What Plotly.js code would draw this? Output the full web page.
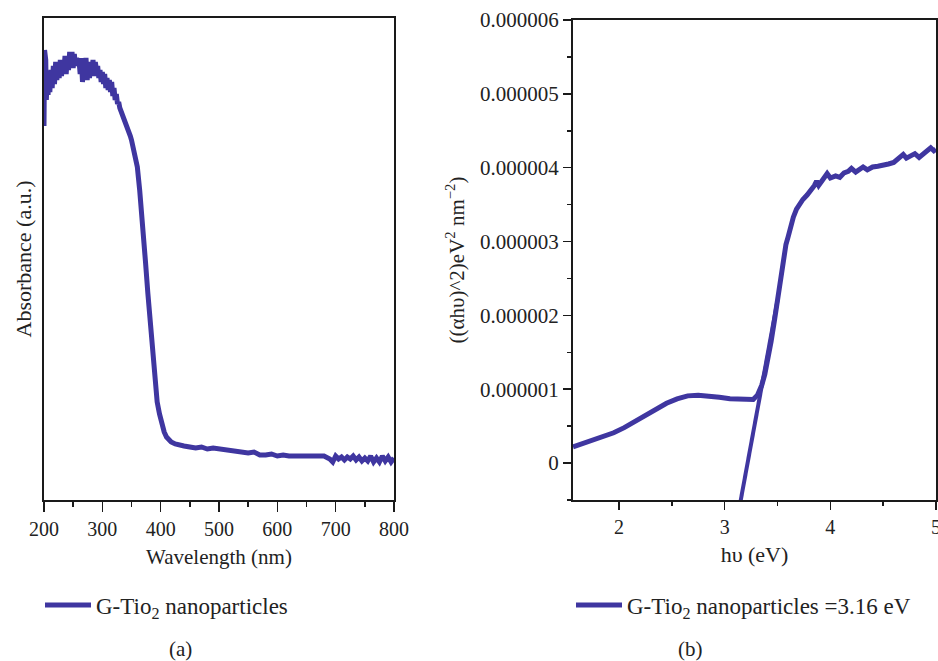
<!DOCTYPE html>
<html>
<head>
<meta charset="utf-8">
<script src="https://cdn.plot.ly/plotly-3.0.1.min.js"></script>
<style>html,body{margin:0;padding:0;background:#fff;}#chart{width:938px;height:661px;}</style>
</head>
<body>
<div id="chart"></div>
<script>
// ---- Panel (a): UV-Vis absorbance ----
const wavelength = [200,201,202,203,204,206,207,208,210,212,214,216,218,220,222,224,226,228,230,232,234,236,238,240,242,244,246,248,250,252,254,256,258,260,262,264,266,268,270,272,274,276,278,280,282,284,286,288,290,292,294,296,298,300,302,304,306,308,310,312,314,316,318,320,322,324,326,328,330,334,338,340,344,348,350,354,358,360,364,368,370,374,378,382,386,390,394,398,402,406,410,414,418,425,430,440,450,460,470,480,490,500,510,520,530,540,550,560,570,580,590,600,610,620,630,640,650,660,670,680,690,695,700,705,710,715,720,725,730,735,740,745,750,755,760,765,770,775,780,785,790,795,800];
const absorbance = [3.74,4.50,3.90,4.40,4.00,4.28,4.05,4.25,4.08,4.30,4.12,4.34,4.16,4.38,4.20,4.36,4.22,4.40,4.24,4.38,4.28,4.44,4.26,4.42,4.30,4.48,4.34,4.48,4.32,4.46,4.34,4.42,4.36,4.40,4.26,4.42,4.18,4.38,4.24,4.42,4.20,4.38,4.22,4.36,4.28,4.40,4.24,4.38,4.30,4.34,4.22,4.30,4.18,4.28,4.16,4.26,4.12,4.22,4.10,4.20,4.08,4.18,4.04,4.12,4.00,4.06,3.96,3.98,3.92,3.86,3.82,3.78,3.70,3.64,3.60,3.50,3.40,3.33,3.10,2.85,2.67,2.38,2.07,1.78,1.50,1.20,0.98,0.86,0.75,0.68,0.63,0.60,0.58,0.56,0.55,0.54,0.53,0.52,0.53,0.51,0.52,0.51,0.50,0.50,0.49,0.47,0.47,0.48,0.45,0.45,0.46,0.44,0.45,0.44,0.44,0.43,0.44,0.43,0.43,0.44,0.41,0.38,0.44,0.41,0.43,0.40,0.43,0.41,0.44,0.40,0.43,0.39,0.42,0.39,0.44,0.38,0.42,0.38,0.44,0.39,0.43,0.38,0.42];
const wlTicks = [200,300,400,500,600,700,800];

// ---- Panel (b): Tauc plot ----
const photonEnergy = [1.565,1.65,1.75,1.85,1.95,2.05,2.15,2.25,2.35,2.45,2.55,2.65,2.75,2.85,2.95,3.05,3.15,3.22,3.27,3.31,3.35,3.38,3.41,3.44,3.47,3.50,3.52,3.54,3.56,3.58,3.60,3.62,3.65,3.68,3.71,3.74,3.78,3.82,3.85,3.87,3.89,3.93,3.97,4.00,4.05,4.09,4.13,4.17,4.20,4.24,4.28,4.31,4.35,4.40,4.45,4.50,4.55,4.60,4.65,4.69,4.72,4.76,4.80,4.84,4.88,4.92,4.95,4.98,5.00];
const taucValue = [0.22e-6,0.26e-6,0.30e-6,0.35e-6,0.41e-6,0.48e-6,0.56e-6,0.65e-6,0.73e-6,0.81e-6,0.87e-6,0.91e-6,0.92e-6,0.91e-6,0.89e-6,0.87e-6,0.86e-6,0.85e-6,0.86e-6,0.92e-6,1.05e-6,1.20e-6,1.40e-6,1.65e-6,1.92e-6,2.20e-6,2.45e-6,2.66e-6,2.82e-6,2.96e-6,3.06e-6,3.18e-6,3.33e-6,3.44e-6,3.51e-6,3.57e-6,3.63e-6,3.70e-6,3.76e-6,3.82e-6,3.76e-6,3.84e-6,3.92e-6,3.86e-6,3.89e-6,3.87e-6,3.93e-6,3.95e-6,3.99e-6,3.94e-6,3.98e-6,4.01e-6,3.97e-6,4.01e-6,4.02e-6,4.03e-6,4.05e-6,4.07e-6,4.12e-6,4.18e-6,4.13e-6,4.17e-6,4.19e-6,4.14e-6,4.18e-6,4.22e-6,4.27e-6,4.23e-6,4.25e-6];
const tangentX = [3.15, 3.50];
const tangentY = [-0.52e-6, 2.20e-6];
const taucTickVals = [0,1e-6,2e-6,3e-6,4e-6,5e-6,6e-6];
const taucTickText = ["0","0.000001","0.000002","0.000003","0.000004","0.000005","0.000006"];
const eVTicks = [2,3,4,5];

const COL = '#3f36a0';
const FONT = 'Liberation Serif, Times New Roman, serif';
const TXT = '#222';
const AX = '#1a1a1a';

const traces = [
  {x: wavelength, y: absorbance, type:'scatter', mode:'lines', xaxis:'x', yaxis:'y',
   line:{color:COL, width:5}, name:'G-Tio<sub>2</sub> nanoparticles', legend:'legend'},
  {x: photonEnergy, y: taucValue, type:'scatter', mode:'lines', xaxis:'x2', yaxis:'y2',
   line:{color:COL, width:5}, name:'G-Tio<sub>2</sub> nanoparticles =3.16 eV', legend:'legend2'},
  {x: tangentX, y: tangentY, type:'scatter', mode:'lines', xaxis:'x2', yaxis:'y2',
   line:{color:COL, width:4}, showlegend:false}
];

const W = 938, H = 661;
const layout = {
  width: W, height: H,
  margin:{l:0,r:0,t:0,b:0},
  paper_bgcolor:'#fff', plot_bgcolor:'#fff',
  font:{family:FONT, size:20, color:TXT},
  xaxis:{domain:[44/W, 394/W], anchor:'y', range:[200,800], tickvals:wlTicks,
    showline:true, mirror:true, linewidth:2, linecolor:AX, showgrid:false, zeroline:false,
    ticks:'outside', ticklen:10, tickwidth:1.5, tickcolor:AX, tickfont:{size:20},
    minor:{dtick:50, tick0:200, ticks:'outside', ticklen:5, tickwidth:1.5, tickcolor:AX, showgrid:false},
    title:{text:'Wavelength (nm)', standoff:10, font:{size:21}}},
  yaxis:{domain:[(H-500)/H, (H-18)/H], anchor:'x', range:[0,4.82],
    showline:true, mirror:true, linewidth:2, linecolor:AX, showgrid:false, zeroline:false,
    showticklabels:false, ticks:'',
    title:{text:'Absorbance (a.u.)', standoff:4, font:{size:22}}},
  xaxis2:{domain:[573/W, 936/W], anchor:'y2', range:[1.565,5], tickvals:eVTicks,
    showline:true, mirror:true, linewidth:2, linecolor:AX, showgrid:false, zeroline:false,
    ticks:'outside', ticklen:8, tickwidth:1.5, tickcolor:AX, tickfont:{size:20},
    ticklabeloverflow:'allow',
    minor:{dtick:0.5, tick0:2, ticks:'outside', ticklen:4, tickwidth:1.5, tickcolor:AX, showgrid:false},
    title:{text:'h\u03c5 (eV)', standoff:10, font:{size:22}}},
  yaxis2:{domain:[(H-500)/H, (H-20)/H], anchor:'x2', range:[-0.5e-6, 6e-6],
    tickmode:'array', tickvals:taucTickVals, ticktext:taucTickText,
    showline:true, mirror:true, linewidth:2, linecolor:AX, showgrid:false, zeroline:false,
    ticks:'outside', ticklen:8, tickwidth:1.5, tickcolor:AX, tickfont:{size:21},
    minor:{dtick:0.5e-6, tick0:0, ticks:'outside', ticklen:4, tickwidth:1.5, tickcolor:AX, showgrid:false},
    title:{text:'((\u03b1h\u03c5)^2)eV<sup>2</sup> nm<sup>\u22122</sup>)', standoff:10, font:{size:21}}},
  legend:{x:40/W, y:(H-605)/H, xanchor:'left', yanchor:'middle', bgcolor:'rgba(0,0,0,0)',
    font:{size:23, color:TXT}, itemwidth:46},
  legend2:{x:571/W, y:(H-605)/H, xanchor:'left', yanchor:'middle', bgcolor:'rgba(0,0,0,0)',
    font:{size:23, color:TXT}, itemwidth:46},
  annotations:[
    {text:'(a)', xref:'paper', yref:'paper', x:180/W, y:(H-649)/H, showarrow:false, xanchor:'center', yanchor:'middle', borderpad:0, font:{size:21, color:TXT}},
    {text:'(b)', xref:'paper', yref:'paper', x:690/W, y:(H-649)/H, showarrow:false, xanchor:'center', yanchor:'middle', borderpad:0, font:{size:21, color:TXT}}
  ],
  showlegend:true
};

Plotly.newPlot('chart', traces, layout, {displayModeBar:false, staticPlot:true});
</script>
</body>
</html>
